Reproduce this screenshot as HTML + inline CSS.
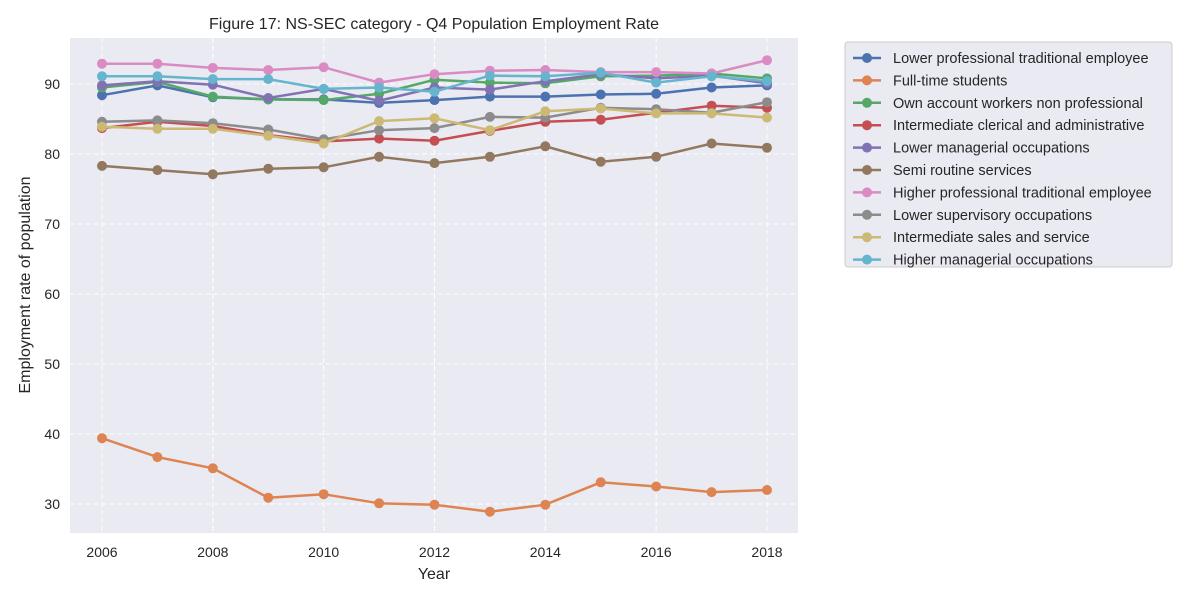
<!DOCTYPE html>
<html><head><meta charset="utf-8"><style>
body{margin:0;background:#fff;font-family:"Liberation Sans",sans-serif}
svg text{font-family:"Liberation Sans",sans-serif;fill:#262626}
</style></head><body>
<svg id="chart" width="1200" height="600">
<text x="434" y="29" font-size="16" text-anchor="middle">Figure 17: NS-SEC category - Q4 Population Employment Rate</text>
<rect x="70" y="38" width="728" height="495" fill="#eaeaf2"/>
<g id="grid"></g><g id="series"></g>
<text x="434" y="579" font-size="16" text-anchor="middle">Year</text>
<text transform="translate(30,285) rotate(-90)" font-size="16" text-anchor="middle">Employment rate of population</text>
<rect x="845" y="42" width="327" height="225" rx="3" fill="#eaeaf2" stroke="#ccc"/>
<g id="legend"></g>
</svg>
<script>
const years=[2006,2007,2008,2009,2010,2011,2012,2013,2014,2015,2016,2017,2018];
const xTicks=[2006,2008,2010,2012,2014,2016,2018];
const yTicks=[30,40,50,60,70,80,90];
const names=["Lower professional traditional employee","Full-time students","Own account workers non professional","Intermediate clerical and administrative","Lower managerial occupations","Semi routine services","Higher professional traditional employee","Lower supervisory occupations","Intermediate sales and service","Higher managerial occupations"];
const colors=["#4c72b0","#dd8452","#55a868","#c44e52","#8172b3","#937860","#da8bc3","#8c8c8c","#ccb974","#64b5cd"];
const s0=[88.4,89.8,88.1,87.8,87.8,87.3,87.7,88.2,88.2,88.5,88.6,89.5,89.8];
const s1=[39.4,36.7,35.1,30.9,31.4,30.1,29.9,28.9,29.9,33.1,32.5,31.7,32.0];
const s2=[89.5,90.3,88.2,87.8,87.7,88.6,90.6,90.2,90.1,91.1,91.2,91.5,90.8];
const s3=[83.7,84.6,84.0,82.7,81.8,82.2,81.9,83.3,84.6,84.9,85.9,86.9,86.6];
const s4=[89.8,90.4,89.9,88.0,89.3,87.6,89.5,89.2,90.4,91.4,90.8,91.2,90.1];
const s5=[78.3,77.7,77.1,77.9,78.1,79.6,78.7,79.6,81.1,78.9,79.6,81.5,80.9];
const s6=[92.9,92.9,92.3,92.0,92.4,90.2,91.4,91.9,92.0,91.7,91.7,91.5,93.4];
const s7=[84.6,84.8,84.4,83.5,82.1,83.4,83.7,85.3,85.2,86.6,86.4,85.9,87.4];
const s8=[83.9,83.6,83.6,82.6,81.5,84.7,85.1,83.4,86.1,86.5,85.8,85.8,85.2];
const s9=[91.1,91.1,90.7,90.7,89.3,89.5,88.9,91.2,91.1,91.6,90.2,91.1,90.4];
const series=[s0,s1,s2,s3,s4,s5,s6,s7,s8,s9];
const NS="http://www.w3.org/2000/svg";
const X=v=>102+(v-2006)*(767-102)/12;
const Y=v=>504-(v-30)*7;
function mk(t,a,p){const e=document.createElementNS(NS,t);for(const k in a)e.setAttribute(k,a[k]);p.appendChild(e);return e;}
const grid=document.getElementById('grid');
xTicks.forEach(t=>{
 const l=mk('line',{x1:X(t),x2:X(t),y1:38,y2:533,stroke:'#fff','stroke-dasharray':'5,3'},grid);
 
 
 const tx=mk('text',{x:X(t),y:557,'font-size':14,'text-anchor':'middle'},grid);tx.textContent=t;
 
 
});
yTicks.forEach(t=>{
 const l=mk('line',{x1:70,x2:798,y1:Y(t),y2:Y(t),stroke:'#fff','stroke-dasharray':'5,3'},grid);
 
 
 const tx=mk('text',{x:60,y:Y(t)+5,'font-size':14,'text-anchor':'end'},grid);tx.textContent=t;
 
 
});
const sg=document.getElementById('series'),lg=document.getElementById('legend');
series.forEach((s,i)=>{
 const g=mk('g',{},sg);
 
 
 mk('polyline',{points:s.map((v,j)=>X(years[j])+','+Y(v)).join(' '),fill:'none',stroke:colors[i],'stroke-width':2.5},g);
 s.forEach((v,j)=>{const c=mk('circle',{cx:X(years[j]),cy:Y(v),r:5,fill:colors[i]},g);
  
  });
 const ly=58+i*22.4;
 const e=mk('g',{},lg);
 
 
 mk('line',{x1:853,x2:881,y1:ly,y2:ly,stroke:colors[i],'stroke-width':2.5},e);
 mk('circle',{cx:867,cy:ly,r:5,fill:colors[i]},e);
 const t=mk('text',{x:893,y:ly+5,'font-size':14.5},e);t.textContent=names[i];
});
</script>
</body></html>
